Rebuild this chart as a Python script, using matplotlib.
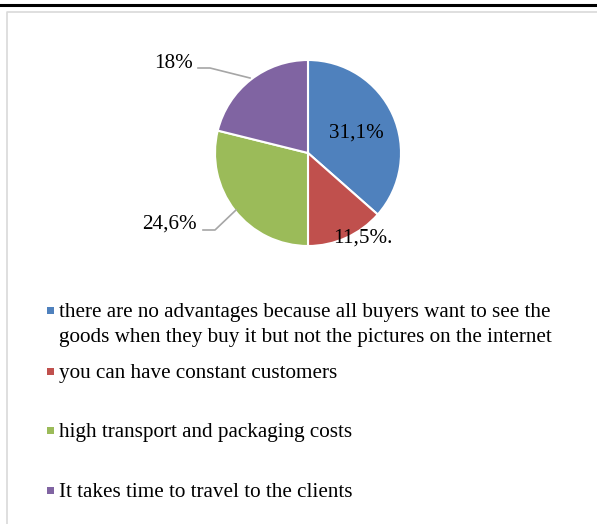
import matplotlib.pyplot as plt
from matplotlib.patches import Rectangle
from matplotlib.lines import Line2D

plt.rcParams['font.family'] = ['Liberation Serif', 'DejaVu Serif']

shares = [31.1, 11.5, 24.6, 18]
share_labels = ['31,1%', '11,5%.', '24,6%', '18%']
categories = [
    ['there are no advantages because all buyers want to see the',
     'goods when they buy it but not the pictures on the internet'],
    ['you can have constant customers'],
    ['high transport and packaging costs'],
    ['It takes time to travel to the clients'],
]
colors = ['#4F81BD', '#C0504D', '#9BBB59', '#8064A2']

W, H = 597, 524
fig = plt.figure(figsize=(W / 100, H / 100), dpi=100)

def fx(px):
    return px / W

def fy(py):
    return 1 - py / H

# frame: black rule on top, light grey box below it
fig.add_artist(Line2D([0, 1], [fy(5), fy(5)], color='black', lw=2.2,
                      transform=fig.transFigure))
fig.add_artist(Line2D([fx(6.5), fx(6.5), 1], [0, fy(11.5), fy(11.5)],
                      color='#d9d9d9', lw=1.2, transform=fig.transFigure))

# pie axes: 93 px radius, centred at (308, 153)
cx, cy, r = 308, 153, 93
half = 150
ax = fig.add_axes([fx(cx - half), fy(cy + half), 2 * half / W, 2 * half / H])

ax.pie(shares, colors=colors, startangle=90, counterclock=False, radius=1,
       wedgeprops=dict(edgecolor='white', linewidth=1.5))

lim = half / r
ax.set_xlim(-lim, lim)
ax.set_ylim(-lim, lim)
ax.set_aspect('equal')
ax.axis('off')

def d(px, py):
    return ((px - cx) / r, (cy - py) / r)

fs = 15.2
ax.text(*d(356, 133), share_labels[0], fontsize=fs, ha='center', va='center')
ax.text(*d(363, 238), share_labels[1], fontsize=fs, ha='center', va='center')
ax.text(*d(197, 224), share_labels[2], fontsize=fs, ha='right', va='center')
ax.text(*d(193, 64), share_labels[3], fontsize=fs, ha='right', va='center')

# leader lines
for pts in ([(203, 230), (215, 230), (236, 210)],
            [(198, 68), (210, 68), (250, 78)]):
    xs, ys = zip(*[d(*p) for p in pts])
    ax.plot(xs, ys, color='#a6a6a6', lw=1.2)

# legend, one baseline per text line
baselines = [317, 378, 437, 497]
line_step = 25
for lines, col, base in zip(categories, colors, baselines):
    fig.add_artist(Rectangle((fx(46.5), fy(base - 3)), 7 / W, 7 / H,
                             facecolor=col, edgecolor='none',
                             transform=fig.transFigure))
    for i, line in enumerate(lines):
        fig.text(fx(59), fy(base + i * line_step), line, fontsize=fs,
                 ha='left', va='baseline')

fig.savefig('out.png', dpi=100)
